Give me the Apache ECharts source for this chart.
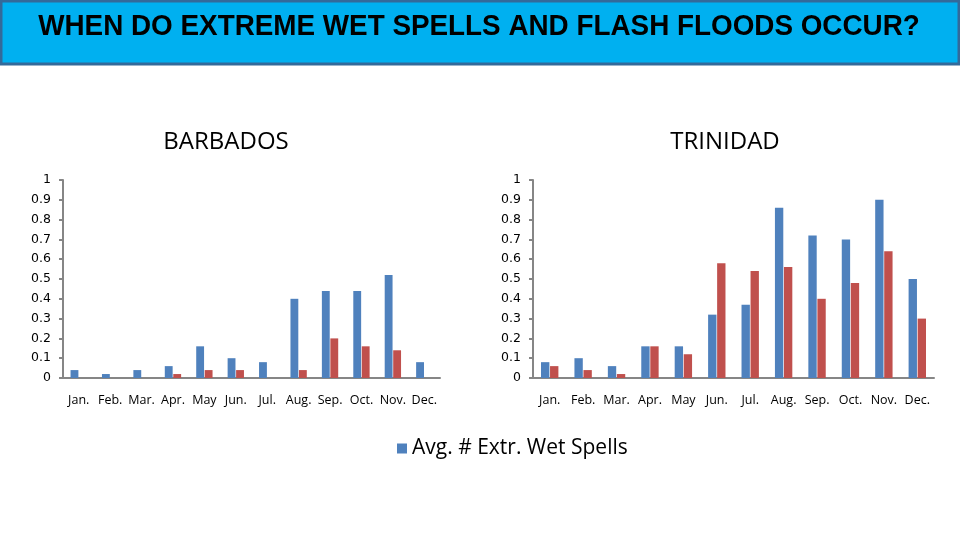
<!DOCTYPE html>
<html>
<head>
<meta charset="utf-8">
<script src="https://cdn.jsdelivr.net/npm/echarts@6/dist/echarts.min.js"></script>
<style>html,body{margin:0;padding:0;background:#fff}#c{width:960px;height:540px}</style>
</head>
<body>
<div id="c"></div>
<script>
const months = ["Jan.", "Feb.", "Mar.", "Apr.", "May", "Jun.", "Jul.", "Aug.", "Sep.", "Oct.", "Nov.", "Dec."];
const yTicks = [0, 0.1, 0.2, 0.3, 0.4, 0.5, 0.6, 0.7, 0.8, 0.9, 1];
const barbadosWetSpells = [0.04, 0.02, 0.04, 0.06, 0.16, 0.10, 0.08, 0.40, 0.44, 0.44, 0.52, 0.08];
const barbadosFlashFloods = [0, 0, 0, 0.02, 0.04, 0.04, 0, 0.04, 0.20, 0.16, 0.14, 0];
const trinidadWetSpells = [0.08, 0.10, 0.06, 0.16, 0.16, 0.32, 0.37, 0.86, 0.72, 0.70, 0.90, 0.50];
const trinidadFlashFloods = [0.06, 0.04, 0.02, 0.16, 0.12, 0.58, 0.54, 0.56, 0.40, 0.48, 0.64, 0.30];

const BLUE = '#4f81bd', RED = '#c0504d', AXIS = '#868686';
const chart = echarts.init(document.getElementById('c'));

function xAxis(idx) {
  return {
    type: 'category', gridIndex: idx, data: months,
    axisLine: { lineStyle: { color: AXIS, width: 2 } },
    axisTick: { lineStyle: { color: AXIS, width: 2 }, length: 5 },
    axisLabel: { color: '#000', fontFamily: 'Open Sans', fontSize: 12.5, margin: 16, interval: 0 }
  };
}
function yAxis(idx) {
  return {
    type: 'value', gridIndex: idx, min: 0, max: 1, interval: 0.1,
    splitLine: { show: false },
    axisLine: { show: true, lineStyle: { color: AXIS, width: 2 } },
    axisTick: { show: true, lineStyle: { color: AXIS, width: 2 }, length: 4 },
    axisLabel: { color: '#000', fontFamily: 'DejaVu Sans', fontSize: 12.5, margin: 12,
      formatter: v => { const t = yTicks.find(x => Math.abs(x - v) < 1e-6); return String(t !== undefined ? t : v); } }
  };
}
function bar(name, data, color, idx) {
  return { name, type: 'bar', xAxisIndex: idx, yAxisIndex: idx, data, barWidth: '25%', barGap: '8%',
    itemStyle: { color }, animation: false };
}

chart.setOption({
  animation: false,
  graphic: [
    { type: 'rect', shape: { x: 1, y: 1, width: 958, height: 63 },
      style: { fill: '#00b0f0', stroke: '#336a9a', lineWidth: 3 } },
    { type: 'text', x: 479, y: 27, scaleX: 0.96,
      style: { text: 'WHEN DO EXTREME WET SPELLS AND FLASH FLOODS OCCUR?', fill: '#000',
        font: 'bold 29px "Liberation Sans", Arial, sans-serif', textAlign: 'center', textVerticalAlign: 'middle' } }
  ],
  title: [
    { text: 'BARBADOS', left: 221, top: 125, textAlign: 'center',
      textStyle: { fontFamily: 'Open Sans', fontSize: 24, fontWeight: 'normal', color: '#000' } },
    { text: 'TRINIDAD', left: 720, top: 125, textAlign: 'center',
      textStyle: { fontFamily: 'Open Sans', fontSize: 24, fontWeight: 'normal', color: '#000' } }
  ],
  legend: {
    data: ['Avg. # Extr. Wet Spells'], left: 392, top: 433, itemWidth: 10, itemHeight: 10, itemGap: 7,
    textStyle: { fontFamily: 'Open Sans', fontSize: 21, color: '#000' }, icon: 'rect'
  },
  grid: [
    { left: 63, top: 180, width: 377, height: 198 },
    { left: 533, top: 180, width: 401, height: 198 }
  ],
  xAxis: [xAxis(0), xAxis(1)],
  yAxis: [yAxis(0), yAxis(1)],
  series: [
    bar('Avg. # Extr. Wet Spells', barbadosWetSpells, BLUE, 0),
    bar('Avg. # Flash Floods', barbadosFlashFloods, RED, 0),
    bar('Avg. # Extr. Wet Spells', trinidadWetSpells, BLUE, 1),
    bar('Avg. # Flash Floods', trinidadFlashFloods, RED, 1)
  ]
});
</script>
</body>
</html>
